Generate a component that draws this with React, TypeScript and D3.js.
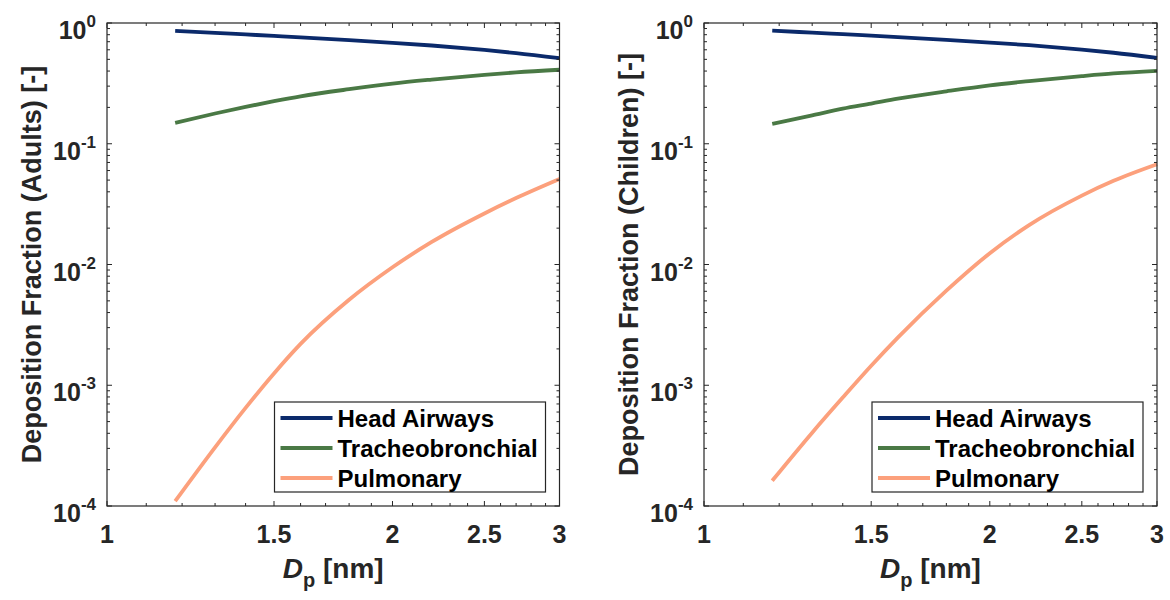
import React from 'react';
import * as d3 from 'd3';

// ---------- data ----------
const dp = [1.18, 1.3, 1.4, 1.5, 1.6, 1.8, 2.0, 2.2, 2.5, 2.7, 3.0];

const adultsHead = [0.86, 0.828, 0.804, 0.781, 0.76, 0.721, 0.685, 0.651, 0.598, 0.563, 0.511];
const adultsTracheo = [0.149, 0.178, 0.202, 0.225, 0.247, 0.283, 0.315, 0.34, 0.372, 0.39, 0.41];
const adultsPulmonary = [1.096e-4, 3.06e-4, 6.49e-4, 1.253e-3, 2.2e-3, 5.1e-3, 9.48e-3, 0.01538, 0.02648, 0.03548, 0.05105];

const childrenHead = [0.865, 0.832, 0.808, 0.785, 0.764, 0.725, 0.689, 0.655, 0.602, 0.567, 0.515];
const childrenTracheo = [0.146, 0.172, 0.195, 0.215, 0.236, 0.272, 0.305, 0.33, 0.363, 0.382, 0.402];
const childrenPulmonary = [1.62e-4, 4.05e-4, 7.9e-4, 1.45e-3, 2.48e-3, 6.07e-3, 0.0124, 0.0212, 0.0372, 0.0493, 0.0676];

const seriesNames = ['Head Airways', 'Tracheobronchial', 'Pulmonary'];
const seriesColors = ['#0b2a6b', '#4a7945', '#fca07c'];

const xTicks = [1, 1.5, 2, 2.5, 3];
const xTickLabels = ['1', '1.5', '2', '2.5', '3'];
const yTickExps = [0, -1, -2, -3, -4];

const xDomain: [number, number] = [1, 3];
const yDomain: [number, number] = [1e-4, 1];

// ---------- layout ----------
const FONT = '"Liberation Sans", Arial, Helvetica, sans-serif';
const AX = '#262626';
const TOP = 23;
const BOTTOM = 506;

type PanelProps = {
  x0: number;
  x1: number;
  yLabel: string;
  series: number[][];
};

function Panel({ x0, x1, yLabel, series }: PanelProps) {
  const x = d3.scaleLog().domain(xDomain).range([x0, x1]);
  const y = d3.scaleLog().domain(yDomain).range([BOTTOM, TOP]);

  const minorX: number[] = [];
  for (let k = 11; k < 30; k++) {
    const r = k / 10;
    if (!xTicks.some((t) => Math.abs(t - r) < 1e-9)) minorX.push(r);
  }
  const minorY: number[] = [];
  for (let e = -4; e < 0; e++) {
    for (let k = 2; k <= 9; k++) minorY.push(k * Math.pow(10, e));
  }

  const line = d3
    .line<[number, number]>()
    .x((d) => x(d[0]))
    .y((d) => y(d[1]))
    .curve(d3.curveMonotoneX);

  const majL = 5;
  const minL = 3;

  const legW = 271;
  const legH = 90;
  const legX = x1 - 14 - legW;
  const legY = BOTTOM - 14 - legH;

  return (
    <g>
      {/* curves */}
      {series.map((vals, i) => (
        <path
          key={i}
          d={line(dp.map((d, j) => [d, vals[j]] as [number, number])) || ''}
          fill="none"
          stroke={seriesColors[i]}
          strokeWidth={3.8}
          strokeLinecap="butt"
        />
      ))}

      {/* ticks */}
      <g stroke={AX} strokeWidth={1}>
        {xTicks.map((t) => (
          <g key={'xt' + t}>
            <line x1={x(t)} x2={x(t)} y1={BOTTOM} y2={BOTTOM - majL} />
            <line x1={x(t)} x2={x(t)} y1={TOP} y2={TOP + majL} />
          </g>
        ))}
        {minorX.map((t) => (
          <g key={'xm' + t}>
            <line x1={x(t)} x2={x(t)} y1={BOTTOM} y2={BOTTOM - minL} />
            <line x1={x(t)} x2={x(t)} y1={TOP} y2={TOP + minL} />
          </g>
        ))}
        {yTickExps.map((e) => (
          <g key={'yt' + e}>
            <line x1={x0} x2={x0 + majL} y1={y(Math.pow(10, e))} y2={y(Math.pow(10, e))} />
            <line x1={x1} x2={x1 - majL} y1={y(Math.pow(10, e))} y2={y(Math.pow(10, e))} />
          </g>
        ))}
        {minorY.map((v) => (
          <g key={'ym' + v}>
            <line x1={x0} x2={x0 + minL} y1={y(v)} y2={y(v)} />
            <line x1={x1} x2={x1 - minL} y1={y(v)} y2={y(v)} />
          </g>
        ))}
      </g>

      {/* frame */}
      <rect x={x0} y={TOP} width={x1 - x0} height={BOTTOM - TOP} fill="none" stroke={AX} strokeWidth={1.2} />

      {/* x tick labels */}
      {xTicks.map((t, i) => (
        <text
          key={'xl' + t}
          x={x(t)}
          y={BOTTOM + 37}
          textAnchor="middle"
          fontFamily={FONT}
          fontWeight="bold"
          fontSize={25}
          fill={AX}
        >
          {xTickLabels[i]}
        </text>
      ))}

      {/* y tick labels */}
      {yTickExps.map((e) => (
        <text
          key={'yl' + e}
          x={x0 - 11}
          y={y(Math.pow(10, e)) + 16}
          textAnchor="end"
          fontFamily={FONT}
          fontWeight="bold"
          fontSize={25}
          fill={AX}
        >
          <tspan>10</tspan>
          <tspan fontSize={17} dy={-12}>
            {String(e)}
          </tspan>
        </text>
      ))}

      {/* x label */}
      <text
        x={(x0 + x1) / 2}
        y={BOTTOM + 72}
        textAnchor="middle"
        fontFamily={FONT}
        fontWeight="bold"
        fontSize={28}
        fill={AX}
      >
        <tspan fontStyle="italic">D</tspan>
        <tspan fontSize={20} dy={9}>p</tspan>
        <tspan dy={-9}> [nm]</tspan>
      </text>

      {/* y label */}
      <text
        transform={`translate(${x0 - 66},${(TOP + BOTTOM) / 2}) rotate(-90)`}
        textAnchor="middle"
        fontFamily={FONT}
        fontWeight="bold"
        fontSize={27}
        fill={AX}
      >
        {yLabel}
      </text>

      {/* legend */}
      <rect x={legX} y={legY} width={legW} height={legH} fill="#fff" stroke={AX} strokeWidth={1.2} />
      {seriesNames.map((name, i) => {
        const cy = legY + 16 + i * 30;
        return (
          <g key={name}>
            <line x1={legX + 6} x2={legX + 58} y1={cy} y2={cy} stroke={seriesColors[i]} strokeWidth={3.8} />
            <text x={legX + 63} y={cy + 8.5} fontFamily={FONT} fontWeight="bold" fontSize={24} fill="#000">
              {name}
            </text>
          </g>
        );
      })}
    </g>
  );
}

export default function App() {
  return (
    <svg
      width={1170}
      height={600}
      style={{ position: 'absolute', left: 0, top: 0, background: '#fff' }}
    >
      <rect x={0} y={0} width={1170} height={600} fill="#fff" />
      <Panel
        x0={107}
        x1={559.5}
        yLabel="Deposition Fraction (Adults) [-]"
        series={[adultsHead, adultsTracheo, adultsPulmonary]}
      />
      <Panel
        x0={704}
        x1={1157}
        yLabel="Deposition Fraction (Children) [-]"
        series={[childrenHead, childrenTracheo, childrenPulmonary]}
      />
    </svg>
  );
}
